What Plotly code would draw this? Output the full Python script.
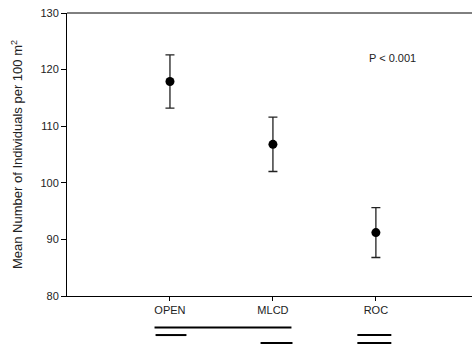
import plotly.graph_objects as go

# habitat categories and their means with error bar half-widths
sites = ['OPEN', 'MLCD', 'ROC']
site_pos = [1, 2, 3]
means = [117.9, 106.8, 91.2]
errors = [4.7, 4.8, 4.4]

# homogeneous subset lines under the axis: (start, end, row)
subset_lines = [
    (0.85, 2.18, 0),
    (0.86, 1.16, 1),
    (1.88, 2.19, 2),
    (2.82, 3.15, 1),
    (2.82, 3.15, 2),
]
row_y = [-0.111, -0.138, -0.166]

fig = go.Figure()
fig.add_trace(go.Scatter(
    x=site_pos, y=means, mode='markers',
    marker=dict(color='black', size=9),
    error_y=dict(type='data', array=errors, color='#222222', thickness=1.3, width=4.5),
))

for x0, x1, row in subset_lines:
    fig.add_shape(type='line', xref='x', yref='paper', x0=x0, x1=x1,
                  y0=row_y[row], y1=row_y[row], line=dict(color='black', width=2))

# top frame line (no right-hand border in the original)
fig.add_shape(type='line', xref='paper', yref='paper', x0=0, x1=1, y0=1, y1=1,
              line=dict(color='black', width=1))

fig.add_annotation(x=3.165, y=122.05, text='P < 0.001', showarrow=False,
                   font=dict(size=11, color='#222222'))

# plot runs a bit past the window's right edge, as in the original crop
fig.update_layout(
    width=484, height=347,
    margin=dict(l=67, r=0, t=13, b=50.5),
    plot_bgcolor='white', paper_bgcolor='white',
    font=dict(family='Liberation Sans, Arial, sans-serif', size=11, color='#222222'),
    showlegend=False,
)
fig.update_xaxes(range=[0, 4.05], tickvals=site_pos, ticktext=sites,
                 showline=True, linecolor='black', linewidth=1,
                 ticks='outside', ticklen=4, tickcolor='black',
                 showgrid=False, zeroline=False)
fig.update_yaxes(range=[80, 130], dtick=10,
                 title=dict(text='Mean Number of Individuals per 100 m<sup>2</sup>', standoff=14),
                 showline=True, linecolor='black', linewidth=1,
                 ticks='outside', ticklen=5, tickcolor='black',
                 showgrid=False, zeroline=False)

# drop the default page margin so the figure sits at the window corner
fig.write_html("out.html", config={'displayModeBar': False},
               post_script="document.body.style.margin='0';document.body.style.overflow='hidden';")
